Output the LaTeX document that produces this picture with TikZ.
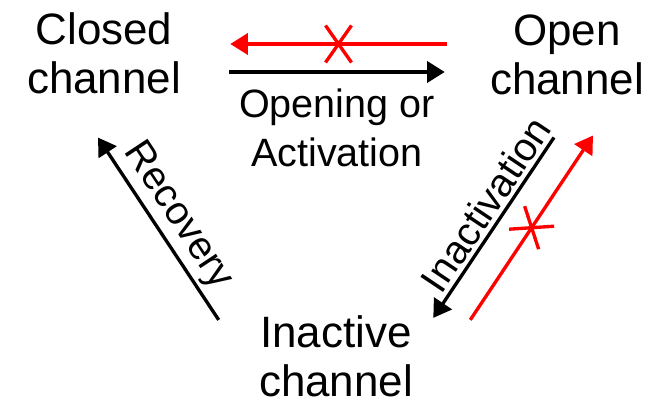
\documentclass[tikz,border=0pt]{standalone}
\usepackage{fontspec}
\setmainfont{Liberation Sans}
\usetikzlibrary{calc,arrows.meta}

\begin{document}
\begin{tikzpicture}[>={Triangle[length=10pt,width=12pt]},
    state/.style={align=center,inner sep=0pt,font=\fontsize{25pt}{28pt}\selectfont},
    lbl/.style={inner sep=0pt,font=\fontsize{22.5pt}{27.9pt}\selectfont},
    flow/.style={->,line width=1.9pt},
    blocked/.style={->,line width=1.9pt,red}]
  \useasboundingbox (0,0) rectangle (13.18,8.12);
  % the three states
  \node[state] (closed) at (2.08,7.05) {Closed\\channel};
  \node[state] (open) at (11.34,7.02) {Open\\channel};
  \node[state] (inactive) at (6.72,1.00) {Inactive\\channel};
  % closed <-> open
  \draw[blocked] ([xshift=-0.86cm,yshift=0.22cm]open.west) -- ([xshift=0.98cm,yshift=0.19cm]closed.east) coordinate[midway] (xtop);
  \draw[red,line width=1.9pt] ($(xtop)+(-0.26,0.37)$) -- ($(xtop)+(0.26,-0.37)$)
        ($(xtop)+(0.26,0.37)$) -- ($(xtop)+(-0.26,-0.37)$);
  \draw[flow] ([xshift=0.96cm,yshift=-0.37cm]closed.east) -- ([xshift=-0.90cm,yshift=-0.34cm]open.west)
        node[midway,below=0.3cm,lbl,align=center] {Opening or\\Activation};
  % open <-> inactive
  \draw[flow] ([xshift=-0.26cm,yshift=-0.84cm]open.south) -- ([xshift=0.40cm,yshift=-0.06cm]inactive.north east)
        node[pos=0.43,sloped,above=2pt,lbl] {Inactivation};
  \draw[blocked] ([xshift=1.14cm,yshift=-0.10cm]inactive.north east) -- ([xshift=0.52cm,yshift=-0.80cm]open.south) coordinate[midway] (xright);
  \draw[red,line width=1.9pt] ($(xright)+(-0.45,-0.03)$) -- ($(xright)+(0.45,0.03)$)
        ($(xright)+(-0.14,0.43)$) -- ($(xright)+(0.14,-0.43)$);
  % inactive -> closed
  \draw[flow] ([xshift=-0.80cm,yshift=-0.10cm]inactive.north west) -- ([xshift=-0.12cm,yshift=-0.86cm]closed.south)
        node[midway,sloped,above=2pt,lbl] {Recovery};
\end{tikzpicture}
\end{document}
